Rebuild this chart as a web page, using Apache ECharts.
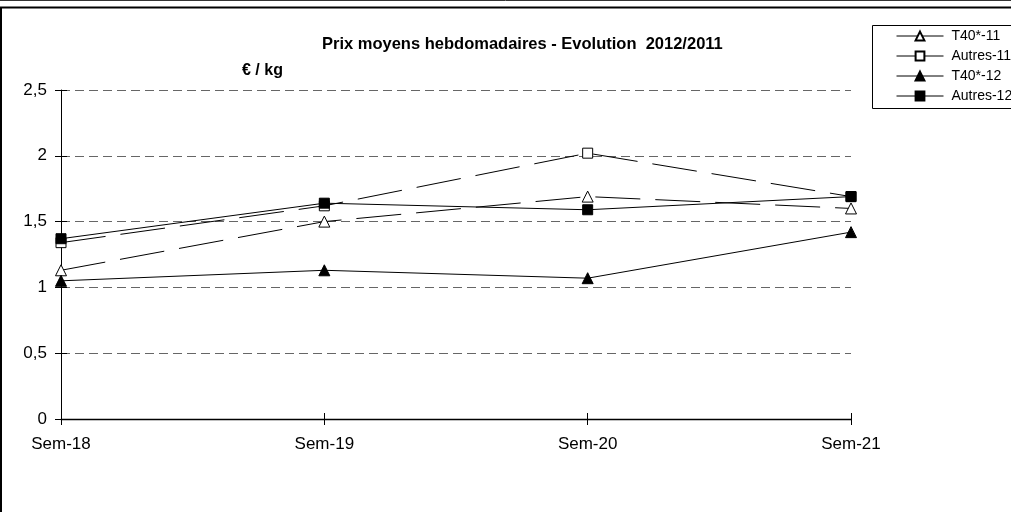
<!DOCTYPE html>
<html>
<head>
<meta charset="utf-8">
<script src="https://cdn.jsdelivr.net/npm/echarts@6/dist/echarts.min.js"></script>
<style>
html,body{margin:0;padding:0;background:#fff;}
#c{width:1011px;height:512px;}
</style>
</head>
<body>
<div id="c"></div>
<script>
const categories = ['Sem-18', 'Sem-19', 'Sem-20', 'Sem-21'];
const t40_11 = [1.13, 1.50, 1.69, 1.60];
const autres_11 = [1.34, 1.62, 2.02, 1.69];
const t40_12 = [1.05, 1.13, 1.07, 1.42];
const autres_12 = [1.37, 1.64, 1.59, 1.69];
const yTicks = [0, 0.5, 1, 1.5, 2, 2.5];

const FONT = '"Liberation Sans", Arial, sans-serif';
const chart = echarts.init(document.getElementById('c'), null, {renderer: 'canvas'});

function fmt(v) { return String(v).replace('.', ','); }

const dashLong = [45, 15];
function mk(name, data, symbol, filled, dashed) {
  return {
    name: name, type: 'line', data: data,
    xAxisIndex: 0, yAxisIndex: 0,
    symbol: symbol, symbolSize: symbol === 'triangle' ? 11 : 10,
    showAllSymbol: true,
    itemStyle: {color: filled ? '#000' : '#fff', borderColor: '#000', borderWidth: 1, opacity: 1},
    lineStyle: {color: '#000', width: 1, type: dashed ? dashLong : 'solid'},
    emphasis: {disabled: true},
    animation: false
  };
}

chart.setOption({
  animation: false,
  backgroundColor: '#fff',
  textStyle: {fontFamily: FONT},
  title: [{
    text: 'Prix moyens hebdomadaires - Evolution  2012/2011',
    left: 317, top: 31,
    textStyle: {fontFamily: FONT, fontSize: 16.5, fontWeight: 'bold', color: '#000'}
  }, {
    text: '€ / kg',
    left: 237, top: 58,
    textStyle: {fontFamily: FONT, fontSize: 16, fontWeight: 'bold', color: '#000'}
  }],
  legend: {
    orient: 'vertical',
    left: 896, top: 29,
    itemWidth: 47, itemHeight: 11, itemGap: 6,
    padding: 0,
    textStyle: {fontFamily: FONT, fontSize: 14, color: '#000', padding: [0, 0, 0, 3]},
    lineStyle: {type: 'solid', width: 1, color: '#000'},
    selectedMode: false,
    data: ['T40*-11', 'Autres-11', 'T40*-12', 'Autres-12']
  },
  grid: {left: 61, right: 160, top: 90, bottom: 93, containLabel: false},
  xAxis: [{
    type: 'category', data: categories, boundaryGap: false, position: 'bottom',
    axisLine: {show: true, lineStyle: {color: '#000', width: 1.3}},
    axisTick: {show: true, inside: false, length: 6, alignWithLabel: true, lineStyle: {color: '#000'}},
    axisLabel: {color: '#000', fontFamily: FONT, fontSize: 17, margin: 17, interval: 0},
    splitLine: {show: false}
  }, {
    type: 'category', data: categories, boundaryGap: false, position: 'bottom',
    axisLine: {show: false},
    axisTick: {show: true, inside: true, length: 6, lineStyle: {color: '#000'}},
    axisLabel: {show: false},
    splitLine: {show: false}
  }],
  yAxis: [{
    type: 'value', min: 0, max: 2.5, interval: 0.5, position: 'left',
    axisLine: {show: true, lineStyle: {color: '#000', width: 1}},
    axisTick: {show: true, inside: false, length: 6, lineStyle: {color: '#000'}},
    axisLabel: {color: '#000', fontFamily: FONT, fontSize: 17, margin: 14, formatter: fmt},
    splitLine: {show: true, lineStyle: {color: '#666', width: 1, type: [9, 5]}}
  }, {
    type: 'value', min: 0, max: 2.5, interval: 0.5, position: 'left',
    axisLine: {show: false},
    axisTick: {show: true, inside: true, length: 6, lineStyle: {color: '#000'}},
    axisLabel: {show: false},
    splitLine: {show: false}
  }],
  graphic: [
    {type: 'line', shape: {x1: 0, y1: 0.5, x2: 1011, y2: 0.5}, style: {stroke: '#333', lineWidth: 1}, silent: true},
    {type: 'line', shape: {x1: 0, y1: 7.5, x2: 1011, y2: 7.5}, style: {stroke: '#000', lineWidth: 2}, silent: true},
    {type: 'line', shape: {x1: 1, y1: 7, x2: 1, y2: 512}, style: {stroke: '#000', lineWidth: 2}, silent: true},
    {type: 'rect', shape: {x: 872.5, y: 25.5, width: 150, height: 83}, style: {fill: null, stroke: '#000', lineWidth: 1}, silent: true, z: 100}
  ],
  series: [
    mk('T40*-11', t40_11, 'triangle', false, true),
    mk('Autres-11', autres_11, 'rect', false, true),
    mk('T40*-12', t40_12, 'triangle', true, false),
    mk('Autres-12', autres_12, 'rect', true, false)
  ]
});
</script>
</body>
</html>
